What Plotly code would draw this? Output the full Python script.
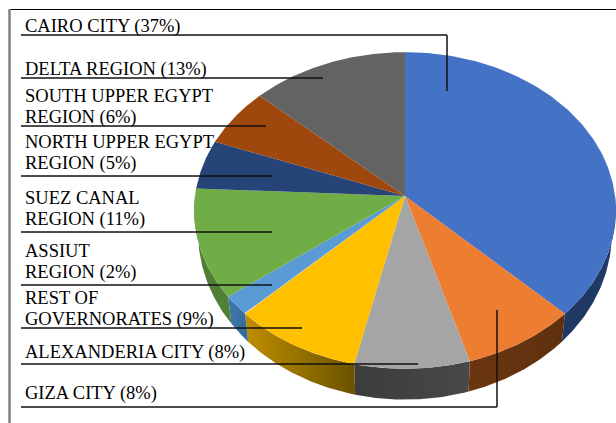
"""Regional share pie, drawn as a tilted 3D pie with callout leader lines."""

import numpy as np
import plotly.graph_objects as go

# Clockwise from 12 o'clock
REGIONS = [
    "CAIRO CITY",
    "GIZA CITY",
    "ALEXANDERIA CITY",
    "REST OF<br>GOVERNORATES",
    "ASSIUT<br>REGION",
    "SUEZ CANAL<br>REGION",
    "NORTH UPPER EGYPT<br>REGION",
    "SOUTH UPPER EGYPT<br>REGION",
    "DELTA REGION",
]
SHARES = [37, 8, 8, 9, 2, 11, 5, 6, 13]
TOP_COLORS = [
    "#4472C4", "#ED7D31", "#A5A5A5", "#FFC000", "#5B9BD5",
    "#70AD47", "#264478", "#9E480E", "#636363",
]
SIDE_COLORS = [
    ("#1F3864", "#1F3864"), ("#6B3610", "#5E300E"), ("#3C3C3C", "#484848"),
    ("#C08F00", "#6B5200"), ("#3F78B0", "#356798"), ("#4F7F34", "#507F35"),
    ("#264478", "#264478"), ("#9E480E", "#9E480E"), ("#636363", "#636363"),
]

# Geometry of the tilted disc, in the pixel space of the axes
CX, CY = 405, 196
TOP_A, TOP_B = 210, 157
BOTTOM_CY, BOTTOM_A, BOTTOM_B = 218, 206, 165
PERSPECTIVE = 0.0915

# Label anchors (x, y centre of first line) and leader polylines
LINE_GAP = 21
LABEL_POS = [
    (24, 26), (24, 393), (24, 352), (24, 298), (24, 251),
    (24, 198), (24, 142), (24, 96), (24, 69),
]
LEADERS = [
    [(21, 35), (447, 35), (447, 91)],
    [(21, 407), (497, 407), (497, 310)],
    [(21, 364), (418, 364)],
    [(21, 328), (302, 328)],
    [(21, 285), (272, 285)],
    [(21, 232), (272, 232)],
    [(21, 176), (272, 176)],
    [(21, 126), (266, 126)],
    [(21, 78), (323, 78)],
]


def rim(theta, cy, a, b):
    """Perspective view of a circle; theta runs clockwise from 12 o'clock."""
    u, v = np.sin(theta), -np.cos(theta)
    depth = 1 - PERSPECTIVE * v
    return CX + a * u / depth, cy + b * v / depth


edges = np.cumsum([0] + SHARES) / sum(SHARES) * 2 * np.pi

fig = go.Figure()

# Side walls first, only the front half of the rim is visible
for start, end, (left_c, right_c) in zip(edges[:-1], edges[1:], SIDE_COLORS):
    lo, hi = max(start, np.pi / 2), min(end, 3 * np.pi / 2)
    if hi <= lo:
        continue
    theta = np.linspace(lo, hi, 60)
    tx, ty = rim(theta, CY, TOP_A, TOP_B)
    bx, by = rim(theta, BOTTOM_CY, BOTTOM_A, BOTTOM_B)
    fig.add_trace(
        go.Scatter(
            x=np.concatenate([tx, bx[::-1]]),
            y=np.concatenate([ty, by[::-1]]),
            mode="lines",
            fill="toself",
            line=dict(width=0),
            fillgradient=dict(
                type="horizontal",
                colorscale=[[0, left_c], [1, right_c]],
            ),
            hoverinfo="skip",
            showlegend=False,
        )
    )

# Top face
for name, share, start, end, color in zip(REGIONS, SHARES, edges[:-1], edges[1:], TOP_COLORS):
    theta = np.linspace(start, end, 120)
    ex, ey = rim(theta, CY, TOP_A, TOP_B)
    fig.add_trace(
        go.Scatter(
            x=np.concatenate([[CX], ex, [CX]]),
            y=np.concatenate([[CY], ey, [CY]]),
            mode="lines",
            fill="toself",
            fillcolor=color,
            line=dict(width=0),
            name=f"{name.replace('<br>', ' ')} ({share}%)",
            hoverinfo="name",
            showlegend=False,
        )
    )

shapes = [
    # chart frame, top and left only
    dict(type="line", x0=9, x1=616, y0=9.5, y1=9.5, line=dict(color="#000000", width=1)),
    dict(type="line", x0=9.5, x1=9.5, y0=9, y1=423, line=dict(color="#808080", width=2.5)),
]
for points in LEADERS:
    for (x0, y0), (x1, y1) in zip(points[:-1], points[1:]):
        shapes.append(
            dict(type="line", x0=x0, x1=x1, y0=y0, y1=y1, line=dict(color="#111111", width=1.5))
        )

# One annotation per text line, the leading is tighter than plotly's <br>
annotations = []
for name, share, (x, y) in zip(REGIONS, SHARES, LABEL_POS):
    for i, line in enumerate(f"{name} ({share}%)".split("<br>")):
        annotations.append(
            dict(
                x=x,
                y=y + i * LINE_GAP,
                text=line,
                showarrow=False,
                xanchor="left",
                yanchor="middle",
                borderpad=0,
                font=dict(family="Liberation Serif", size=18.5, color="#000000"),
            )
        )

fig.update_layout(
    width=616,
    height=423,
    margin=dict(l=0, r=0, t=0, b=0),
    paper_bgcolor="white",
    plot_bgcolor="white",
    xaxis=dict(range=[0, 616], visible=False, fixedrange=True),
    yaxis=dict(range=[423, 0], visible=False, fixedrange=True),
    shapes=shapes,
    annotations=annotations,
)

fig.write_html(
    "out.html",
    config=dict(displayModeBar=False),
    post_script="document.body.style.margin = '0';",
)
